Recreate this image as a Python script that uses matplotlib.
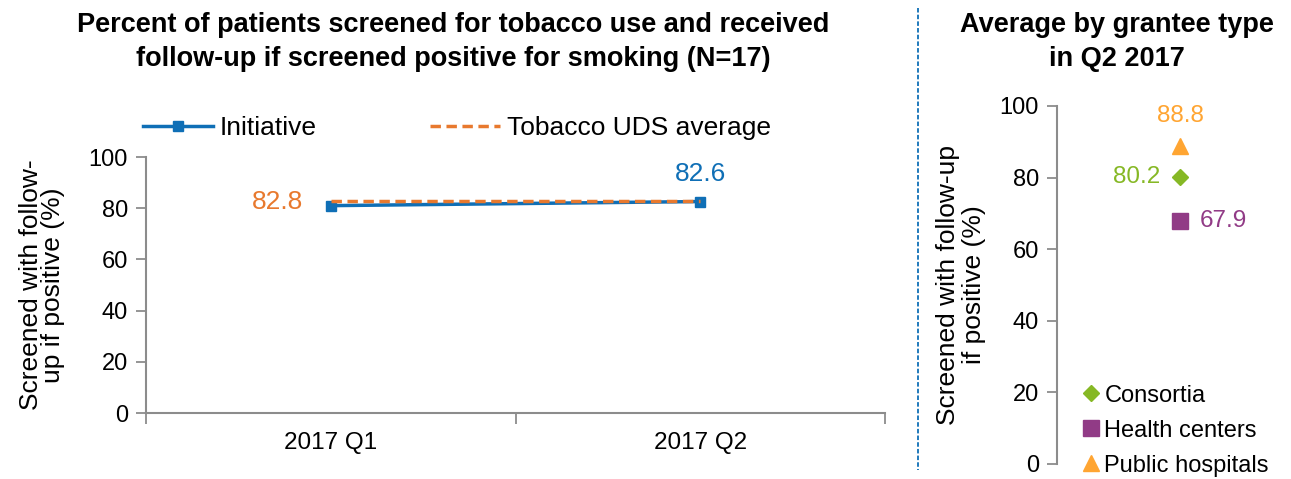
import matplotlib
matplotlib.use("Agg")
import matplotlib.pyplot as plt
from matplotlib.lines import Line2D

plt.rcParams['font.family'] = ['Liberation Sans', 'DejaVu Sans']

# Data
quarters = ["2017 Q1", "2017 Q2"]
initiative = [81.0, 82.6]
uds_average = [82.8, 82.8]
initiative_labels = [None, "82.6"]
uds_labels = ["82.8", None]

grantee_types = ["Consortia", "Health centers", "Public hospitals"]
grantee_values = [80.2, 67.9, 88.8]

yticks = [0, 20, 40, 60, 80, 100]

BLUE = "#0F6FB6"
ORANGE = "#E8792E"
GREEN = "#86B825"
PURPLE = "#913B86"
LORANGE = "#FFA532"
GRAY = "#8C8C8C"

W, H = 1291, 479
fig = plt.figure(figsize=(W / 100, H / 100), dpi=100)

# Left chart
ax = fig.add_axes([146/W, 1-413/H, (885-146)/W, (413-157)/H])
x = list(range(len(quarters)))
ax.plot(x, initiative, color=BLUE, lw=2.5, marker='s', ms=7, label="Initiative", zorder=3)
ax.plot(x, uds_average, color=ORANGE, lw=2.5, ls=(0, (3, 1.6)), label="Tobacco UDS average", zorder=4)
ax.set_xlim(-0.5, 1.5)
ax.set_ylim(0, 100)
ax.set_yticks(yticks)
ax.set_xticks(x)
ax.set_xticklabels(quarters)
ax.set_xticks([-0.5, 0.5, 1.5], minor=True)
ax.tick_params(axis='x', which='major', length=0, pad=14, labelsize=17.5)
ax.tick_params(axis='x', which='minor', length=8, color=GRAY, width=1.3)
ax.tick_params(axis='y', length=7, color=GRAY, width=1.3, labelsize=17, pad=6)
for s in ['top', 'right']:
    ax.spines[s].set_visible(False)
for s in ['left', 'bottom']:
    ax.spines[s].set_color(GRAY)
    ax.spines[s].set_linewidth(1.5)

for i, lab in enumerate(initiative_labels):
    if lab:
        ax.annotate(lab, (x[i], initiative[i]), xytext=(0, 11), textcoords='offset points',
                    ha='center', va='bottom', color=BLUE, fontsize=19)
for i, lab in enumerate(uds_labels):
    if lab:
        ax.annotate(lab, (x[i], uds_average[i]), xytext=(-20, -1), textcoords='offset points',
                    ha='right', va='center', color=ORANGE, fontsize=19)

ax.set_ylabel("Screened with follow-\nup if positive (%)", fontsize=19, labelpad=17, linespacing=0.9)

leg = ax.legend(loc='center left', bbox_to_anchor=(-0.004, 1 + 29/256), ncol=2, frameon=False,
                fontsize=19, handlelength=2.65, handletextpad=0.25, columnspacing=4.3,
                borderaxespad=0, borderpad=0)

fig.text(453/W, 1-42/H, "Percent of patients screened for tobacco use and received\nfollow-up if screened positive for smoking (N=17)",
         ha='center', va='center', fontsize=19.5, fontweight='bold', linespacing=1.35)

# Separator
fig.add_artist(Line2D([918/W, 918/W], [1-8/H, 1-470/H], color=BLUE,
                      lw=1.3, ls=(0, (2.5, 1.2)), transform=fig.transFigure))

# Right chart
ax2 = fig.add_axes([1057/W, 1-464/H, (1285-1057)/W, (464-106)/H])
markers = ['D', 's', '^']
colors = [GREEN, PURPLE, LORANGE]
xpos = 0.54
for g, v, m, c in zip(grantee_types, grantee_values, markers, colors):
    ax2.plot([xpos], [v], marker=m, color=c, ms=11 if m != 'D' else 8.5, ls='none', label=g)
ax2.set_xlim(0, 1)
ax2.set_ylim(0, 100)
ax2.set_yticks(yticks)
ax2.set_xticks([])
ax2.tick_params(axis='y', length=7, color=GRAY, width=1.3, labelsize=17, pad=6)
for s in ['top', 'right', 'bottom']:
    ax2.spines[s].set_visible(False)
ax2.spines['left'].set_color(GRAY)
ax2.spines['left'].set_linewidth(1.5)

ax2.annotate(f"{grantee_values[0]:.1f}", (xpos, grantee_values[0]), xytext=(-14, 0),
             textcoords='offset points', ha='right', va='center', color=GREEN, fontsize=17.5)
ax2.annotate(f"{grantee_values[1]:.1f}", (xpos, grantee_values[1]), xytext=(14, 0),
             textcoords='offset points', ha='left', va='center', color=PURPLE, fontsize=17.5)
ax2.annotate(f"{grantee_values[2]:.1f}", (xpos, grantee_values[2]), xytext=(0, 14),
             textcoords='offset points', ha='center', va='bottom', color=LORANGE, fontsize=17.5)

ax2.set_ylabel("Screened with follow-up\nif positive (%)", fontsize=19, labelpad=10, linespacing=1.1)
ax2.legend(loc='lower left', bbox_to_anchor=(0.12, -0.035), frameon=False, fontsize=17,
           handlelength=0.6, handletextpad=0.25, labelspacing=0.55, borderpad=0, borderaxespad=0)

fig.text(1117/W, 1-42/H, "Average by grantee type\nin Q2 2017", ha='center', va='center',
         fontsize=19.5, fontweight='bold', linespacing=1.35)

fig.savefig("out.png", dpi=100)
